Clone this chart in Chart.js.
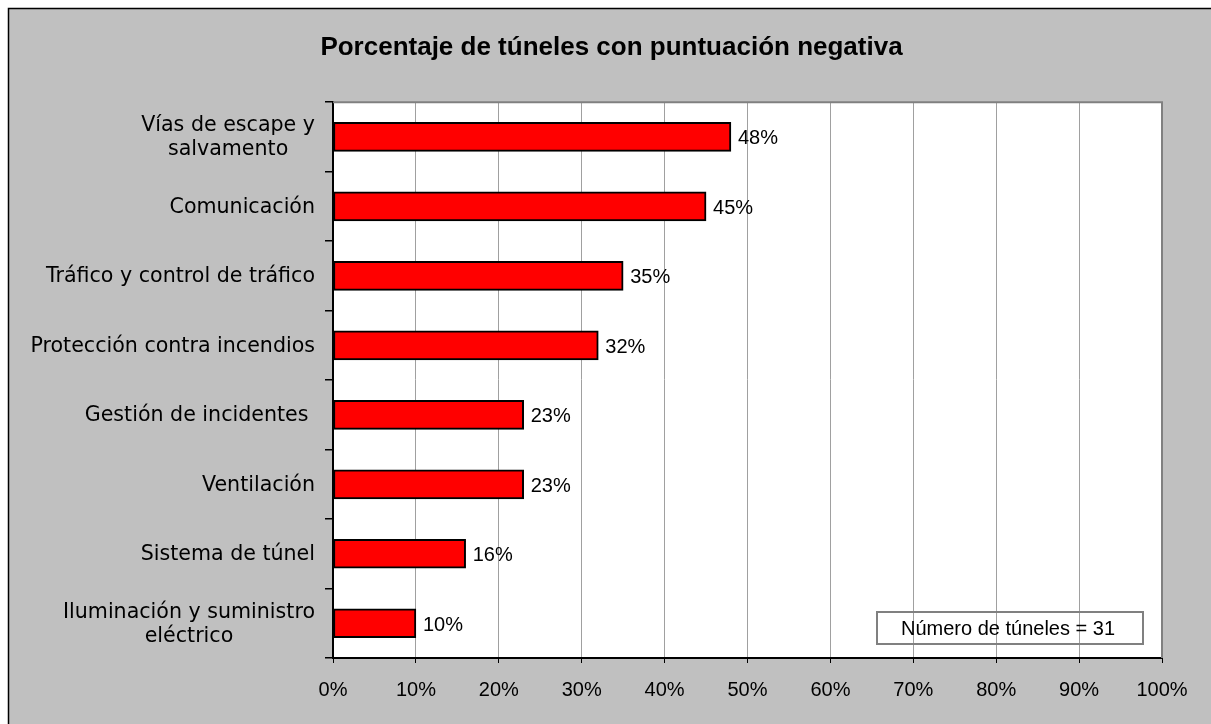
<!DOCTYPE html>
<html>
<head>
<meta charset="utf-8">
<script src="https://cdn.jsdelivr.net/npm/chart.js@4"></script>
<style>
  body { margin: 0; background: #fff; }
  canvas { display: block; }
</style>
</head>
<body>
<canvas id="chart" width="1211" height="724"></canvas>
<script>
// Data
const categories = [
  ["Vías de escape y", "salvamento"],
  ["Comunicación"],
  ["Tráfico y control de tráfico"],
  ["Protección contra incendios"],
  ["Gestión de incidentes "],
  ["Ventilación"],
  ["Sistema de túnel"],
  ["Iluminación y suministro", "eléctrico"]
];
const negativePct = [48, 45, 35, 32, 23, 23, 16, 10];
const xTicks = [0, 10, 20, 30, 40, 50, 60, 70, 80, 90, 100];
const titleText = "Porcentaje de túneles con puntuación negativa";
const noteText = "Número de túneles = 31";

const ARIAL = "'Liberation Sans', Arial, sans-serif";
const LABEL_FONT = "20.6px 'DejaVu Sans', sans-serif";

// Grey panel with black frame behind everything
const panelBg = {
  id: "panelBg",
  beforeDraw(chart) {
    const ctx = chart.ctx;
    ctx.save();
    ctx.fillStyle = "#fff";
    ctx.fillRect(0, 0, chart.width, chart.height);
    ctx.fillStyle = "#c0c0c0";
    ctx.fillRect(8, 8, chart.width, chart.height);
    ctx.strokeStyle = "#000";
    ctx.lineWidth = 1.5;
    ctx.beginPath();
    ctx.moveTo(8.5, chart.height);
    ctx.lineTo(8.5, 8.5);
    ctx.lineTo(chart.width, 8.5);
    ctx.stroke();
    // white plot area
    const a = chart.chartArea;
    ctx.fillStyle = "#fff";
    ctx.fillRect(a.left, a.top, a.right - a.left, a.bottom - a.top);
    ctx.restore();
  }
};

// Top/right plot frame, value labels, category labels and note box
const extras = {
  id: "extras",
  beforeDatasetsDraw(chart) {
    const ctx = chart.ctx, a = chart.chartArea;
    ctx.save();
    ctx.strokeStyle = "#808080";
    ctx.lineWidth = 2;
    ctx.beginPath();
    ctx.moveTo(a.left, a.top);
    ctx.lineTo(a.right, a.top);
    ctx.lineTo(a.right, a.bottom);
    ctx.stroke();
    ctx.restore();
  },
  afterDatasetsDraw(chart) {
    const ctx = chart.ctx;
    const meta = chart.getDatasetMeta(0);
    ctx.save();
    ctx.fillStyle = "#000";
    ctx.font = "20px " + ARIAL;
    ctx.textAlign = "left";
    ctx.textBaseline = "middle";
    meta.data.forEach((bar, i) => {
      ctx.fillText(negativePct[i] + "%", bar.x + 7, bar.y + 2);
    });

    // category labels: block right-aligned, lines centred inside the block
    const yScale = chart.scales.y;
    ctx.font = LABEL_FONT;
    ctx.textAlign = "center";
    const right = chart.chartArea.left - 18;
    const lh = 24;
    categories.forEach((lines, i) => {
      const w = Math.max(...lines.map(l => ctx.measureText(l).width));
      const cx = right - w / 2;
      const cy = yScale.getPixelForValue(i) + 1;
      const y0 = cy - (lines.length - 1) * lh / 2;
      lines.forEach((l, k) => ctx.fillText(l, cx, y0 + k * lh));
    });
    ctx.restore();
  },
  afterDraw(chart) {
    const ctx = chart.ctx, a = chart.chartArea;
    const bw = 266, bh = 32;
    const bx = a.right - 19 - bw, by = a.bottom - 14 - bh;
    ctx.save();
    ctx.strokeStyle = "#808080";
    ctx.lineWidth = 2;
    ctx.strokeRect(bx, by, bw, bh);
    ctx.fillStyle = "#000";
    ctx.font = "20px " + ARIAL;
    ctx.textAlign = "center";
    ctx.textBaseline = "middle";
    ctx.fillText(noteText, bx + bw / 2 - 2, by + bh / 2 + 1);
    ctx.restore();
  }
};

new Chart(document.getElementById("chart"), {
  type: "bar",
  data: {
    labels: categories,
    datasets: [{
      data: negativePct,
      backgroundColor: "#ff0000",
      borderColor: "#000",
      borderWidth: 2,
      borderSkipped: false,
      barThickness: 29
    }]
  },
  options: {
    indexAxis: "y",
    responsive: false,
    devicePixelRatio: 1,
    animation: false,
    layout: { padding: { top: 0, left: 61, right: 49, bottom: 0 } },
    plugins: {
      legend: { display: false },
      tooltip: { enabled: false },
      title: {
        display: true,
        text: titleText,
        color: "#000",
        font: { family: ARIAL, size: 26, weight: "bold" },
        padding: { top: 32, bottom: 39 }
      }
    },
    scales: {
      x: {
        min: 0,
        max: 100,
        afterBuildTicks: s => { s.ticks = xTicks.map(v => ({ value: v })); },
        afterFit: s => { s.height = 66; },
        ticks: {
          color: "#000",
          font: { family: ARIAL, size: 20 },
          padding: 15,
          maxRotation: 0,
          callback: v => v + "%"
        },
        grid: { color: "#a0a0a0", lineWidth: 1, tickColor: "#000", tickLength: 5 },
        border: { color: "#000", width: 2 }
      },
      y: {
        afterFit: s => { s.width = 272; },
        ticks: { display: false },
        grid: { offset: true, drawOnChartArea: false, tickColor: "#000", tickLength: 8, lineWidth: 1.5 },
        border: { color: "#000", width: 2 }
      }
    }
  },
  plugins: [panelBg, extras]
});
</script>
</body>
</html>
